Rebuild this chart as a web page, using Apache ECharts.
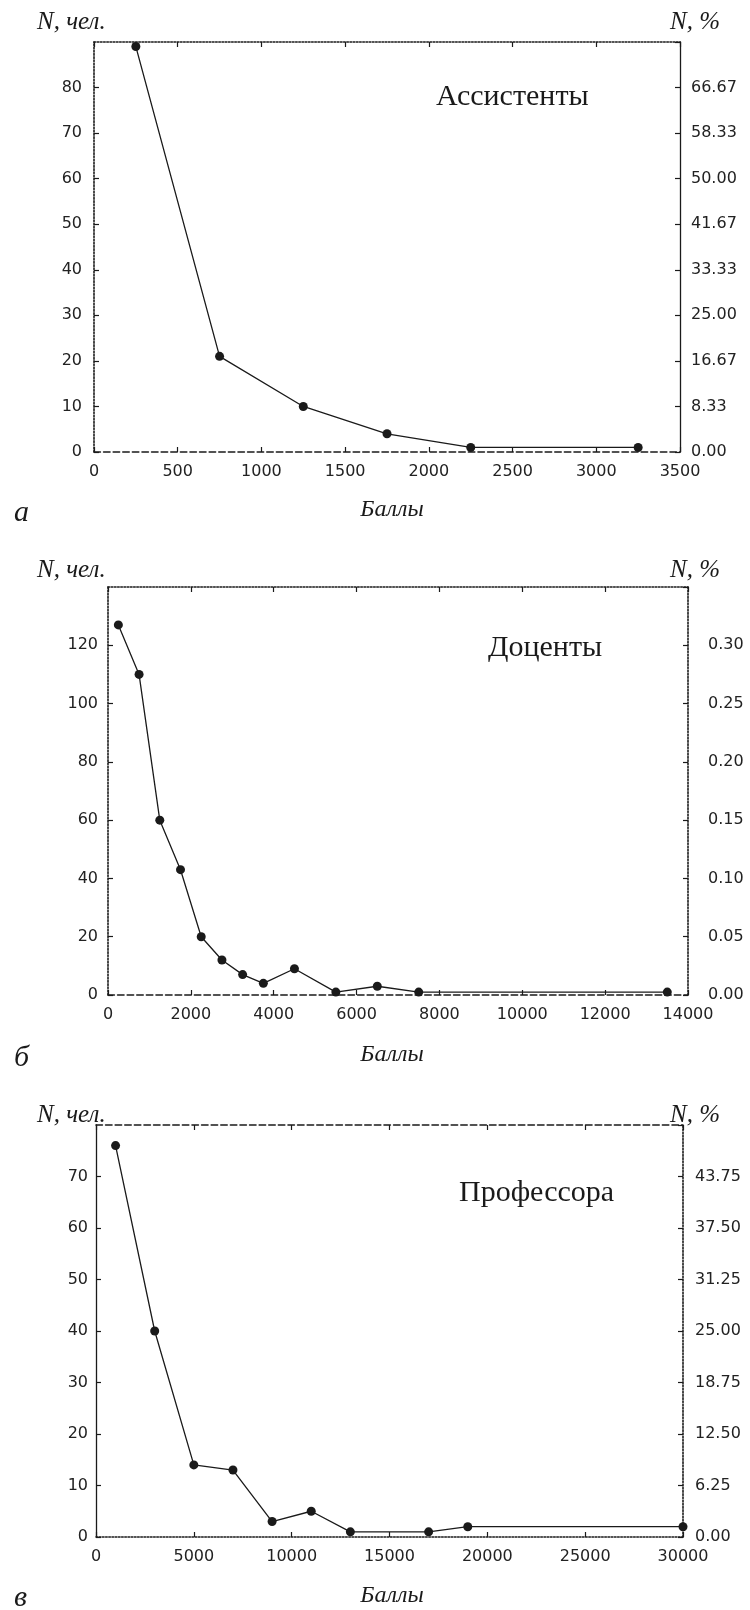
<!DOCTYPE html>
<html>
<head>
<meta charset="utf-8">
<script src="https://cdn.jsdelivr.net/npm/echarts@6/dist/echarts.min.js"></script>
<style>
  html, body { margin: 0; padding: 0; background: #fff; }
  #chart { width: 750px; height: 1610px; }
</style>
</head>
<body>
<div id="chart"></div>
<script>
// Ассистенты: баллы и число сотрудников
const assistScore = [250, 750, 1250, 1750, 2250, 3250];
const assistCount = [89, 21, 10, 4, 1, 1];
const assistPctLabels = ['0.00', '8.33', '16.67', '25.00', '33.33', '41.67', '50.00', '58.33', '66.67'];

// Доценты
const docentScore = [250, 750, 1250, 1750, 2250, 2750, 3250, 3750, 4500, 5500, 6500, 7500, 13500];
const docentCount = [127, 110, 60, 43, 20, 12, 7, 4, 9, 1, 3, 1, 1];
const docentPctLabels = ['0.00', '0.05', '0.10', '0.15', '0.20', '0.25', '0.30'];

// Профессора
const profScore = [1000, 3000, 5000, 7000, 9000, 11000, 13000, 17000, 19000, 30000];
const profCount = [76, 40, 14, 13, 3, 5, 1, 1, 2, 2];
const profPctLabels = ['0.00', '6.25', '12.50', '18.75', '25.00', '31.25', '37.50', '43.75'];

const panelTitles = ['Ассистенты', 'Доценты', 'Профессора'];
const panelLetters = ['а', 'б', 'в'];
const xAxisName = 'Баллы';
const leftAxisName = 'N, чел.';
const rightAxisName = 'N, %';

const INK = '#1a1a1a';
const TICK_FONT = 'DejaVu Sans';
const SERIF = 'Liberation Serif';

// layout of the three stacked panels
const panels = [
  {
    score: assistScore, count: assistCount, pct: assistPctLabels,
    xMax: 3500, xStep: 500, yMax: 90, yStep: 10,
    grid: { left: 94, top: 42, width: 586, height: 410 },
    border: { top: 'dotted', left: 'dotted', bottom: 'dashed', right: 'solid' },
    yMargin: 12, pctMargin: 11,
    head: 22, titleXY: [436, 97], nameY: 510, letterY: 513
  },
  {
    score: docentScore, count: docentCount, pct: docentPctLabels,
    xMax: 14000, xStep: 2000, yMax: 140, yStep: 20,
    grid: { left: 108, top: 587, width: 580, height: 408 },
    border: { top: 'dotted', left: 'dotted', bottom: 'dashed', right: 'dotted' },
    yMargin: 10, pctMargin: 20,
    head: 570, titleXY: [488, 648], nameY: 1055, letterY: 1058
  },
  {
    score: profScore, count: profCount, pct: profPctLabels,
    xMax: 30000, xStep: 5000, yMax: 80, yStep: 10,
    grid: { left: 96, top: 1125, width: 587, height: 412 },
    border: { top: 'dashed', left: 'solid', bottom: 'dotted', right: 'dotted' },
    yMargin: 8, pctMargin: 12,
    head: 1115, titleXY: [459, 1193], nameY: 1596, letterY: 1598
  }
];

function lineOf(type) {
  return {
    show: true, onZero: false,
    lineStyle: { color: INK, width: type === 'solid' ? 1.3 : 1.6, type: type }
  };
}
const tick = { show: true, inside: true, length: 5, lineStyle: { color: INK, width: 1.2 } };
const tickText = { fontFamily: TICK_FONT, fontSize: 16, color: '#222' };

const grids = [], xAxes = [], yAxes = [], series = [], graphics = [];

panels.forEach((p, i) => {
  grids.push(Object.assign({ containLabel: false }, p.grid));

  // bottom scale with labels, top edge mirrors it with ticks only
  xAxes.push({
    type: 'value', gridIndex: i, position: 'bottom', min: 0, max: p.xMax, interval: p.xStep,
    axisLine: lineOf(p.border.bottom), axisTick: tick, splitLine: { show: false },
    axisLabel: Object.assign({ margin: 12, formatter: v => String(v) }, tickText)
  });
  xAxes.push({
    type: 'value', gridIndex: i, position: 'top', min: 0, max: p.xMax, interval: p.xStep,
    axisLine: lineOf(p.border.top), axisTick: tick, splitLine: { show: false },
    axisLabel: { show: false }
  });

  // head count on the left, share in percent on the right
  yAxes.push({
    type: 'value', gridIndex: i, position: 'left', min: 0, max: p.yMax, interval: p.yStep,
    axisLine: lineOf(p.border.left), axisTick: tick, splitLine: { show: false },
    axisLabel: Object.assign({ margin: p.yMargin, showMaxLabel: false, formatter: v => String(v) }, tickText)
  });
  yAxes.push({
    type: 'value', gridIndex: i, position: 'right', min: 0, max: p.yMax, interval: p.yStep,
    axisLine: lineOf(p.border.right), axisTick: tick, splitLine: { show: false },
    axisLabel: Object.assign({
      margin: p.pctMargin,
      formatter: v => {
        const k = Math.round(v / p.yStep);
        return p.pct[k] !== undefined ? p.pct[k] : '';
      }
    }, tickText)
  });

  series.push({
    type: 'line', xAxisIndex: i * 2, yAxisIndex: i * 2,
    data: p.score.map((s, k) => [s, p.count[k]]),
    symbol: 'circle', symbolSize: 9, showSymbol: true,
    itemStyle: { color: INK },
    lineStyle: { color: INK, width: 1.3 },
    clip: false, z: 5
  });

  const serif = (size, italic) => (italic ? 'italic ' : '') + size + 'px "' + SERIF + '"';
  graphics.push(
    { type: 'text', x: 37, y: p.head,
      style: { text: leftAxisName, font: serif(25, true), fill: INK, textAlign: 'left', textVerticalAlign: 'middle' } },
    { type: 'text', x: 670, y: p.head,
      style: { text: rightAxisName, font: serif(25, true), fill: INK, textAlign: 'left', textVerticalAlign: 'middle' } },
    { type: 'text', x: p.titleXY[0], y: p.titleXY[1],
      style: { text: panelTitles[i], font: serif(30, false), fill: INK, textAlign: 'left', textVerticalAlign: 'middle' } },
    { type: 'text', x: 392, y: p.nameY,
      style: { text: xAxisName, font: serif(24, true), fill: INK, textAlign: 'center', textVerticalAlign: 'middle' } },
    { type: 'text', x: 14, y: p.letterY,
      style: { text: panelLetters[i], font: serif(30, true), fill: INK, textAlign: 'left', textVerticalAlign: 'middle' } }
  );
});

const chart = echarts.init(document.getElementById('chart'), null, { renderer: 'canvas' });
chart.setOption({
  animation: false,
  backgroundColor: '#ffffff',
  grid: grids,
  xAxis: xAxes,
  yAxis: yAxes,
  series: series,
  graphic: graphics
});
</script>
</body>
</html>
